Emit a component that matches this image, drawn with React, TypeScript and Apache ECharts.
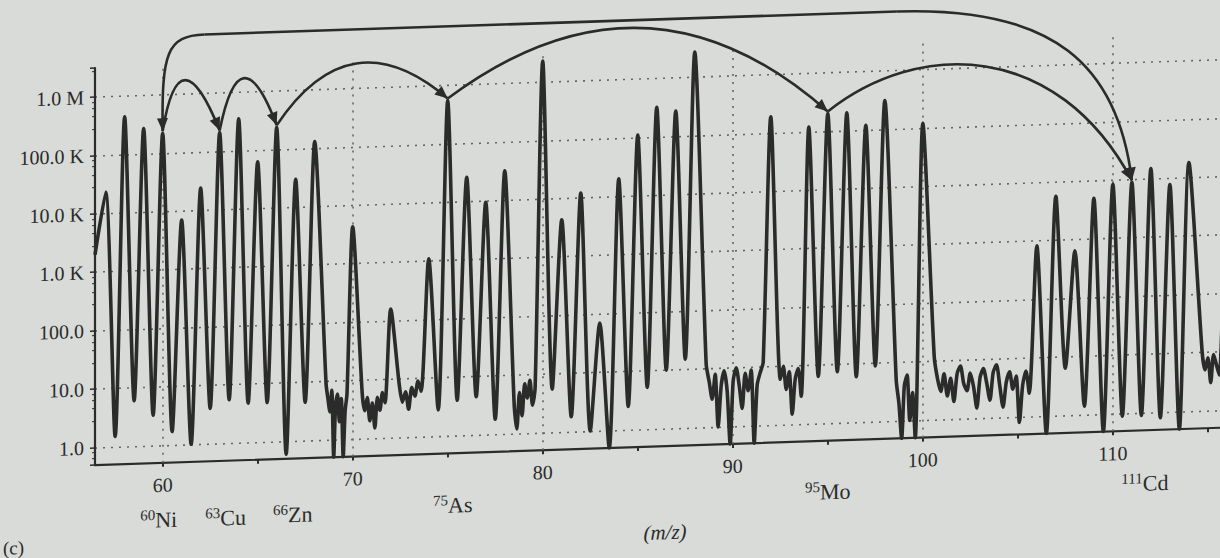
import React, { useEffect, useRef } from 'react';
import * as echarts from 'echarts';

const PAPER = '#d8dbd7';
const INK = '#2b2b2b';
const FONT = '"Liberation Serif", "Times New Roman", serif';

// axis tick labels
const yTickLabels = ['1.0', '10.0', '100.0', '1.0 K', '10.0 K', '100.0 K', '1.0 M'];
const xLabelValues = [60, 70, 80, 90, 100, 110];
const xTickValues = [60, 65, 70, 75, 80, 85, 90, 95, 100, 105, 110, 115];
const xGridValues = [60, 70, 80, 90, 100, 110];

// peak tops [m/z, counts]
const peaks: [number, number][] = [
  [57, 2.3e4], [58, 4.4e5], [59, 2.7e5], [60, 2.2e5], [61, 7e3], [62, 2.4e4],
  [63, 2.1e5], [64, 3.5e5], [65, 6.3e4], [66, 2.4e5], [67, 3e4], [68, 1.3e5],
  [70, 4.3e3], [72, 160], [74, 1.1e3], [75, 5.5e5], [76, 2.6e4], [77, 9.5e3],
  [78, 3.2e4], [80, 2.3e6], [81, 4.3e3], [82, 1.2e4], [83, 70], [84, 2e4],
  [85, 1.1e5], [86, 3.2e5], [87, 2.7e5], [88, 2.7e6], [92, 1.9e5], [94, 1.2e5],
  [95, 2e5], [96, 2e5], [97, 1.2e5], [98, 3.1e5], [100, 1.2e5], [106, 830],
  [107, 5.7e3], [108, 650], [109, 5e3], [110, 8.5e3], [111, 8.9e3], [112, 1.5e4],
  [113, 7.8e3], [114, 1.8e4], [116, 5e3],
];

// minima between neighbouring peaks [m/z, counts]
const valleys: [number, number][] = [
  [56.44, 2000], [57.5, 1.5], [58.5, 6], [59.5, 3.3], [60.5, 1.7], [61.5, 1.0],
  [62.5, 4], [63.5, 5.5], [64.5, 4.7], [65.5, 4.7], [66.5, 0.6], [67.5, 4.5],
  [74.5, 2.8], [75.5, 4], [76.5, 4.5], [77.5, 1.8], [80.5, 5.5], [81.5, 1.8],
  [82.5, 1.0], [83.5, 0.5], [84.5, 2.5], [85.5, 5.2], [86.5, 10], [87.5, 15],
  [94.5, 6.4], [95.5, 7.5], [96.5, 6], [97.5, 9], [106.5, 0.5], [107.5, 6.4],
  [108.5, 1.4], [109.5, 0.5], [110.5, 0.9], [111.5, 0.9], [112.5, 0.8],
  [113.5, 0.5], [116.6, 3],
];

// baseline noise readings between peaks
const noiseBands: { from: number; to: number; values: number[] }[] = [
  { from: 68.6, to: 69.7, values: [9, 5, 3, 7, 0.5, 4, 6, 2, 5, 0.5, 3, 6] },
  { from: 70.5, to: 71.7, values: [6, 3, 5, 2, 4, 1.5, 5, 3, 6, 4] },
  { from: 72.45, to: 73.6, values: [8, 4, 6, 3, 7, 5, 9, 6] },
  { from: 78.5, to: 79.6, values: [3, 1.2, 5, 2, 7, 4, 8, 3, 6] },
  { from: 88.6, to: 91.6, values: [12, 6, 3, 8, 1, 5, 9, 4, 0.5, 6, 10, 5, 2, 8, 4, 9, 0.5, 5, 8, 12] },
  { from: 92.5, to: 93.6, values: [6, 10, 4, 8, 1.5, 6, 9, 3] },
  { from: 98.6, to: 99.6, values: [5, 2, 0.5, 4, 6, 1, 3, 0.5] },
  {
    from: 100.6, to: 105.6,
    values: [12, 5, 3, 6, 2.5, 5, 2, 6, 8, 4, 3, 6, 3.5, 1.5, 5, 7, 4, 2, 6, 8, 3.5, 1.5, 4, 6, 3, 5, 0.8, 3.5, 6, 2.5],
  },
  { from: 114.7, to: 115.6, values: [10, 5, 8, 3, 9, 6, 4] },
];

// labelled isotopes (arrow chain order)
const isotopeMz = [60, 63, 66, 75, 95, 111];
const isotopeNames = ['Ni', 'Cu', 'Zn', 'As', 'Mo', 'Cd'];

function buildTrace(): [number, number][] {
  const pts: [number, number][] = [...peaks, ...valleys];
  noiseBands.forEach((b) => {
    const n = b.values.length;
    b.values.forEach((v, i) => pts.push([b.from + ((b.to - b.from) * i) / (n - 1), v]));
  });
  return pts.sort((a, b) => a[0] - b[0]);
}

function yLabel(v: number): string {
  const l = Math.log10(v);
  const e = Math.round(l);
  if (Math.abs(l - e) > 1e-6 || e < 0 || e >= yTickLabels.length) return '';
  return yTickLabels[e];
}

type P = [number, number];

function head(tip: P, from: P, len = 13, half = 5.5) {
  const dx = tip[0] - from[0];
  const dy = tip[1] - from[1];
  const d = Math.hypot(dx, dy) || 1;
  const ux = dx / d;
  const uy = dy / d;
  const bx = tip[0] - ux * len;
  const by = tip[1] - uy * len;
  return {
    type: 'polygon',
    silent: true,
    z: 20,
    shape: { points: [[tip[0], tip[1]], [bx - uy * half, by + ux * half], [bx + uy * half, by - ux * half]] },
    style: { fill: INK },
  };
}

const curveStyle = { stroke: INK, lineWidth: 2.6, fill: 'none' };

export default function App() {
  const ref = useRef<HTMLDivElement>(null);
  useEffect(() => {
    document.body.style.margin = '0';
    document.body.style.background = PAPER;
    const chart = echarts.init(ref.current!, null, { renderer: 'svg' });
    const option: any = {
      animation: false,
      backgroundColor: 'transparent',
      grid: { left: 95, right: 0, top: 51, bottom: 110, containLabel: false },
      xAxis: {
        type: 'value',
        min: 56.44,
        max: 116.69,
        axisLine: { show: true, onZero: false, lineStyle: { color: INK, width: 2.2 } },
        axisTick: { show: true, customValues: xTickValues, length: 4, lineStyle: { color: INK, width: 2 } },
        axisLabel: { customValues: xLabelValues, margin: 12, color: INK, fontFamily: FONT, fontSize: 20 },
        splitLine: { show: false },
      },
      yAxis: {
        type: 'log',
        logBase: 10,
        min: 0.5,
        max: 3.13e6,
        axisLine: { show: true, lineStyle: { color: INK, width: 2.2 } },
        axisTick: { show: true, length: 5, lineStyle: { color: INK, width: 1.5 } },
        minorTick: { show: true, splitNumber: 5, length: 3, lineStyle: { color: INK, width: 1 } },
        axisLabel: {
          formatter: yLabel,
          margin: 11,
          color: INK,
          fontFamily: FONT,
          fontSize: 20,
          showMinLabel: false,
          showMaxLabel: false,
        },
        splitLine: {
          show: true,
          showMinLine: false,
          showMaxLine: false,
          lineStyle: { type: [2, 6], color: '#666', width: 1.6 },
        },
      },
      series: [
        {
          type: 'line',
          data: buildTrace(),
          symbol: 'none',
          smooth: 0.25,
          clip: true,
          lineStyle: { color: INK, width: 3.6 },
          markLine: {
            silent: true,
            symbol: 'none',
            label: { show: false },
            lineStyle: { type: [2, 6], color: '#666', width: 1.6 },
            data: xGridValues.map((v) => ({ xAxis: v })),
          },
          z: 5,
        },
      ],
    };
    chart.setOption(option);

    const pk = (m: number): P => {
      const v = (peaks.find((p) => p[0] === m) || [m, 1])[1];
      const px = chart.convertToPixel({ gridIndex: 0 }, [m, v]) as number[];
      return [px[0], px[1] - 2];
    };
    const tips = isotopeMz.map(pk);
    const g: any[] = [];

    // small arcs: apex heights (px) of each hop
    const apexY = [66, 66, 55, 29];
    const apexDx = [-6, -4, -6, 4];
    for (let i = 0; i < 4; i++) {
      const a = tips[i];
      const b = tips[i + 1];
      const mid: P = [(a[0] + b[0]) / 2, (a[1] + b[1]) / 2];
      const c: P = [mid[0] + 2 * apexDx[i], 2 * apexY[i] - mid[1]];
      g.push({ type: 'bezierCurve', silent: true, z: 19, shape: { x1: a[0], y1: a[1], x2: b[0], y2: b[1], cpx1: c[0], cpy1: c[1] }, style: curveStyle });
      g.push(head(b, c));
    }
    // Mo -> Cd
    {
      const a = tips[4];
      const b = tips[5];
      const c1: P = [a[0] + 90, 50];
      const c2: P = [b[0] - 75, 55];
      g.push({ type: 'bezierCurve', silent: true, z: 19, shape: { x1: a[0], y1: a[1], x2: b[0], y2: b[1], cpx1: c1[0], cpy1: c1[1], cpx2: c2[0], cpy2: c2[1] }, style: curveStyle });
      g.push(head(b, c2));
    }
    // big arc over the whole spectrum, Ni ... Cd
    {
      const ni = tips[0];
      const cd = tips[5];
      const topY = 21;
      const l: P = [ni[0] + 42, topY];
      const r: P = [cd[0] - 235, topY];
      g.push({ type: 'bezierCurve', silent: true, z: 19, shape: { x1: l[0], y1: l[1], x2: ni[0], y2: ni[1], cpx1: ni[0] + 4, cpy1: topY, cpx2: ni[0] - 1, cpy2: 38 }, style: curveStyle });
      g.push(head(ni, [ni[0] - 1, 38]));
      g.push({ type: 'line', silent: true, z: 19, shape: { x1: l[0], y1: l[1], x2: r[0], y2: r[1] }, style: { stroke: INK, lineWidth: 2.6 } });
      const c2: P = [cd[0] - 14, 82];
      g.push({ type: 'bezierCurve', silent: true, z: 19, shape: { x1: r[0], y1: r[1], x2: cd[0], y2: cd[1], cpx1: cd[0] - 78, cpy1: topY, cpx2: c2[0], cpy2: c2[1] }, style: curveStyle });
      g.push(head(cd, c2));
    }

    // isotope labels under the axis
    const labelY = [505, 505, 504, 500, 499, 501];
    const labelDx = [-4, 6, 16, 5, 0, 13];
    isotopeMz.forEach((m, i) => {
      const x = (chart.convertToPixel({ gridIndex: 0 }, [m, 1]) as number[])[0];
      g.push({
        type: 'text',
        silent: true,
        x: x + labelDx[i],
        y: labelY[i],
        style: {
          text: `{s|${m}}{n|${isotopeNames[i]}}`,
          align: 'center',
          verticalAlign: 'middle',
          fill: INK,
          rich: {
            s: { fontSize: 15, fontFamily: FONT, fill: INK, verticalAlign: 'top', lineHeight: 25 },
            n: { fontSize: 22, fontFamily: FONT, fill: INK, lineHeight: 25 },
          },
        },
      });
    });
    g.push({
      type: 'text', silent: true, x: 665, y: 534,
      style: { text: '(m/z)', align: 'center', verticalAlign: 'middle', fill: INK, font: `italic 21px ${FONT}` },
    });
    g.push({
      type: 'text', silent: true, x: 3, y: 528,
      style: { text: '(c)', align: 'left', verticalAlign: 'middle', fill: INK, font: `19px ${FONT}` },
    });
    chart.setOption({ graphic: g });
    return () => chart.dispose();
  }, []);

  return (
    <div style={{ position: 'fixed', left: 0, top: 0, width: 1220, height: 558, overflow: 'hidden', background: PAPER }}>
      <div
        ref={ref}
        style={{ width: 1240, height: 558, transform: 'skewY(-1.9deg)', transformOrigin: '610px 279px' }}
      />
    </div>
  );
}
